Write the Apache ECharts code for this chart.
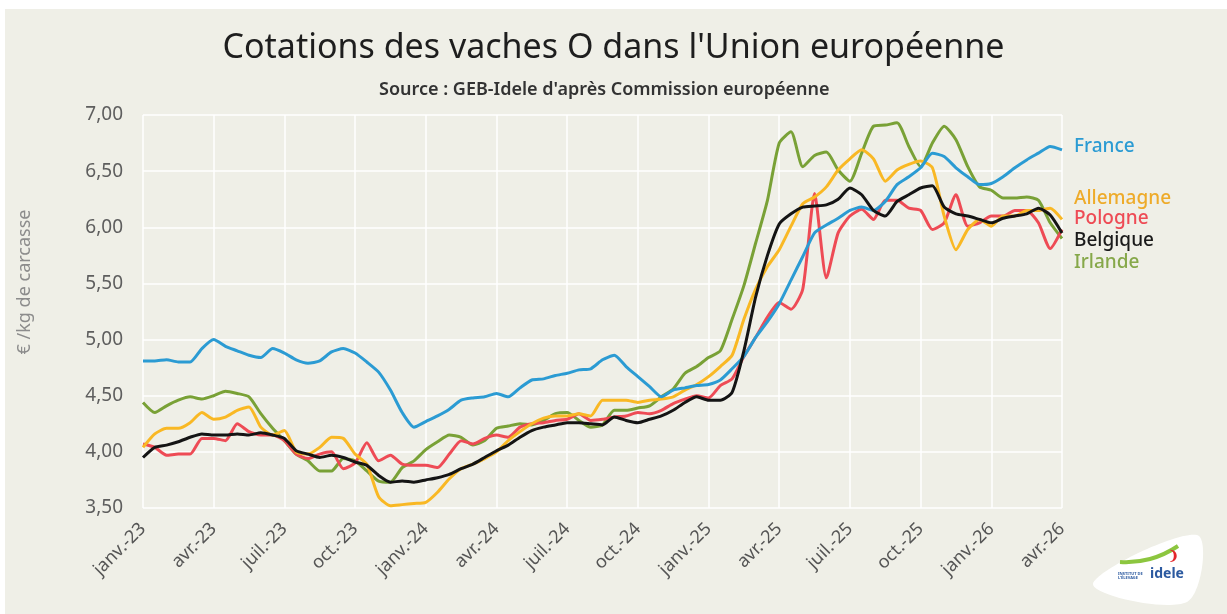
<!DOCTYPE html>
<html>
<head>
<meta charset="utf-8">
<script src="https://cdn.jsdelivr.net/npm/echarts@6/dist/echarts.min.js"></script>
<style>
  html, body { margin: 0; padding: 0; background: #fff; }
  #chart { width: 1227px; height: 614px; }
</style>
</head>
<body>
<div id="chart"></div>
<script>
// libellés trimestriels de l'axe X
const quarterLabels = ['janv.-23', 'avr.-23', 'juil.-23', 'oct.-23', 'janv.-24', 'avr.-24', 'juil.-24',
  'oct.-24', 'janv.-25', 'avr.-25', 'juil.-25', 'oct.-25', 'janv.-26', 'avr.-26'];

// cotations €/kg de carcasse, un point par quinzaine depuis janv. 2023
const france = [4.81, 4.81, 4.82, 4.80, 4.80, 4.92, 5.00, 4.94, 4.90, 4.86, 4.84, 4.92, 4.88, 4.82, 4.79, 4.81,
  4.89, 4.92, 4.88, 4.80, 4.71, 4.55, 4.35, 4.22, 4.27, 4.32, 4.38, 4.46, 4.48, 4.49, 4.52, 4.49,
  4.57, 4.64, 4.65, 4.68, 4.70, 4.73, 4.74, 4.82, 4.86, 4.76, 4.67, 4.58, 4.49, 4.55, 4.57, 4.59,
  4.60, 4.64, 4.74, 4.85, 5.02, 5.16, 5.32, 5.53, 5.74, 5.95, 6.02, 6.08, 6.15, 6.18, 6.15, 6.23,
  6.38, 6.45, 6.53, 6.66, 6.63, 6.53, 6.45, 6.38, 6.39, 6.45, 6.53, 6.60, 6.66, 6.72, 6.69];
const allemagne = [4.04, 4.16, 4.21, 4.21, 4.26, 4.35, 4.29, 4.31, 4.37, 4.40, 4.22, 4.15, 4.19, 4.00, 3.98, 4.04,
  4.13, 4.12, 3.98, 3.89, 3.60, 3.52, 3.53, 3.54, 3.55, 3.64, 3.76, 3.85, 3.89, 3.94, 4.00, 4.10,
  4.18, 4.25, 4.30, 4.32, 4.32, 4.34, 4.32, 4.46, 4.46, 4.46, 4.44, 4.46, 4.47, 4.49, 4.55, 4.60,
  4.67, 4.76, 4.86, 5.18, 5.45, 5.65, 5.80, 6.01, 6.21, 6.27, 6.36, 6.51, 6.61, 6.69, 6.61, 6.41,
  6.51, 6.56, 6.59, 6.53, 6.10, 5.80, 5.98, 6.07, 6.01, 6.10, 6.10, 6.15, 6.15, 6.17, 6.07];
const pologne = [4.07, 4.04, 3.97, 3.98, 3.98, 4.12, 4.12, 4.10, 4.25, 4.18, 4.15, 4.15, 4.10, 3.98, 3.94, 3.98,
  4.00, 3.85, 3.90, 4.08, 3.92, 3.97, 3.89, 3.88, 3.88, 3.86, 3.98, 4.10, 4.07, 4.12, 4.15, 4.13,
  4.22, 4.25, 4.26, 4.28, 4.29, 4.34, 4.28, 4.29, 4.31, 4.32, 4.35, 4.34, 4.37, 4.43, 4.47, 4.50,
  4.48, 4.59, 4.65, 4.85, 5.02, 5.20, 5.33, 5.27, 5.45, 6.30, 5.55, 5.95, 6.10, 6.16, 6.07, 6.24,
  6.24, 6.17, 6.15, 5.98, 6.04, 6.29, 6.01, 6.04, 6.10, 6.10, 6.15, 6.15, 6.04, 5.81, 5.98];
const belgique = [3.95, 4.04, 4.06, 4.09, 4.13, 4.16, 4.15, 4.15, 4.16, 4.15, 4.17, 4.15, 4.12, 4.01, 3.98, 3.95,
  3.97, 3.95, 3.91, 3.88, 3.79, 3.73, 3.74, 3.73, 3.75, 3.77, 3.80, 3.85, 3.89, 3.95, 4.01, 4.06,
  4.13, 4.19, 4.22, 4.24, 4.26, 4.26, 4.25, 4.24, 4.31, 4.28, 4.26, 4.29, 4.32, 4.37, 4.44, 4.49,
  4.46, 4.46, 4.53, 4.90, 5.38, 5.75, 6.03, 6.12, 6.18, 6.19, 6.20, 6.25, 6.35, 6.29, 6.15, 6.10,
  6.23, 6.29, 6.35, 6.37, 6.18, 6.12, 6.10, 6.07, 6.04, 6.08, 6.10, 6.12, 6.17, 6.11, 5.95];
const irlande = [4.44, 4.35, 4.41, 4.46, 4.49, 4.47, 4.50, 4.54, 4.52, 4.49, 4.34, 4.21, 4.10, 3.98, 3.92, 3.83,
  3.83, 3.94, 3.92, 3.83, 3.74, 3.73, 3.86, 3.92, 4.02, 4.09, 4.15, 4.13, 4.06, 4.10, 4.21, 4.23,
  4.25, 4.24, 4.28, 4.34, 4.35, 4.28, 4.22, 4.24, 4.37, 4.37, 4.39, 4.41, 4.49, 4.56, 4.70, 4.76,
  4.84, 4.90, 5.18, 5.48, 5.86, 6.24, 6.75, 6.85, 6.54, 6.64, 6.67, 6.51, 6.41, 6.66, 6.90, 6.91,
  6.93, 6.72, 6.54, 6.75, 6.90, 6.78, 6.54, 6.36, 6.33, 6.26, 6.26, 6.27, 6.24, 6.04, 5.90];

// une catégorie par quinzaine (1er et 15 du mois)
const categories = france.map((_, i) => {
  const m = Math.floor(i / 2);
  const year = 2023 + Math.floor(m / 12);
  const month = String(m % 12 + 1).padStart(2, '0');
  return year + '-' + month + (i % 2 ? '-15' : '-01');
});

const font = 'Noto Sans';
const colors = {
  France: '#2b9bd3',
  Allemagne: '#f9b824',
  Pologne: '#ee4b55',
  Belgique: '#141414',
  Irlande: '#79a136'
};

const chart = echarts.init(document.getElementById('chart'));

const mkLine = (name, data, z) => ({
  name: name,
  type: 'line',
  data: data,
  z: z,
  smooth: 0.2,
  symbol: 'none',
  lineStyle: { color: colors[name], width: 3 },
  itemStyle: { color: colors[name] }
});

// étiquettes des pays à droite
const endLabel = (name, y, color) => ({
  type: 'text',
  left: 1074,
  top: y - 12,
  style: { text: name, fill: color, font: '500 19px "' + font + '"' }
});

const option = {
  backgroundColor: '#efefe7',
  animation: false,
  title: [
    {
      text: "Cotations des vaches O dans l'Union européenne",
      left: 'center',
      top: 26,
      textStyle: { fontFamily: font, fontSize: 34, fontWeight: 'normal', color: '#1e1e1e' }
    },
    {
      text: "Source : GEB-Idele d'après Commission européenne",
      left: 374,
      top: 76,
      textStyle: { fontFamily: font, fontSize: 18, fontWeight: 600, color: '#333' }
    }
  ],
  grid: { left: 143, right: 165, top: 115, bottom: 106 },
  xAxis: {
    type: 'category',
    data: categories,
    boundaryGap: false,
    axisLine: { show: false },
    axisTick: { show: false },
    axisLabel: {
      interval: 5,
      rotate: 45,
      margin: 18,
      fontFamily: font,
      fontSize: 18,
      color: '#555',
      formatter: (v, idx) => idx % 6 === 0 ? quarterLabels[idx / 6] : ''
    },
    splitLine: { show: true, interval: 5, lineStyle: { color: '#ffffff', width: 1.5 } }
  },
  yAxis: {
    type: 'value',
    min: 3.5,
    max: 7,
    interval: 0.5,
    axisLine: { show: false },
    axisTick: { show: false },
    axisLabel: {
      margin: 20,
      fontFamily: font,
      fontSize: 19,
      color: '#5e5e5e',
      formatter: v => v.toFixed(2).replace('.', ',')
    },
    splitLine: { lineStyle: { color: '#ffffff', width: 1.5 } }
  },
  series: [
    mkLine('Irlande', irlande, 2),
    mkLine('Pologne', pologne, 3),
    mkLine('Allemagne', allemagne, 4),
    mkLine('France', france, 5),
    mkLine('Belgique', belgique, 6)
  ],
  graphic: [
    { type: 'rect', left: 0, top: 0, shape: { width: 1227, height: 9 }, style: { fill: '#ffffff' } },
    { type: 'rect', left: 0, top: 0, shape: { width: 5, height: 614 }, style: { fill: '#ffffff' } },
    // titre de l'axe Y
    {
      type: 'text',
      x: 25,
      y: 282,
      rotation: Math.PI / 2,
      style: {
        text: '€ /kg de carcasse',
        fill: '#8c8c8c',
        font: '18px "' + font + '"',
        align: 'center',
        verticalAlign: 'middle'
      }
    },
    endLabel('France', 149, colors.France),
    endLabel('Allemagne', 201, '#eeab2a'),
    endLabel('Pologne', 221, colors.Pologne),
    endLabel('Belgique', 243, '#1a1a1a'),
    endLabel('Irlande', 265, '#86a84a'),
    // logo idele
    {
      type: 'polygon',
      shape: { points: [[1093, 584], [1197, 535], [1187, 602]], smooth: 0.35 },
      style: { fill: '#ffffff' }
    },
    {
      type: 'polyline',
      shape: { points: [[1120, 562], [1150, 559], [1178, 546]], smooth: 0.5 },
      style: { stroke: '#8cc63f', lineWidth: 4, fill: null }
    },
    {
      type: 'text', left: 1168, top: 550,
      style: { text: '❩', fill: '#e4252b', font: 'bold 13px "' + font + '"' }
    },
    {
      type: 'text', left: 1118, top: 572,
      style: { text: "INSTITUT DE\nL'ÉLEVAGE", fill: '#2c5aa0', font: 'bold 4px "' + font + '"' }
    },
    {
      type: 'text', left: 1150, top: 567,
      style: { text: 'idele', fill: '#2c5aa0', font: 'bold 14px "' + font + '"' }
    }
  ]
};

chart.setOption(option);
window.addEventListener('resize', () => chart.resize());
</script>
</body>
</html>
